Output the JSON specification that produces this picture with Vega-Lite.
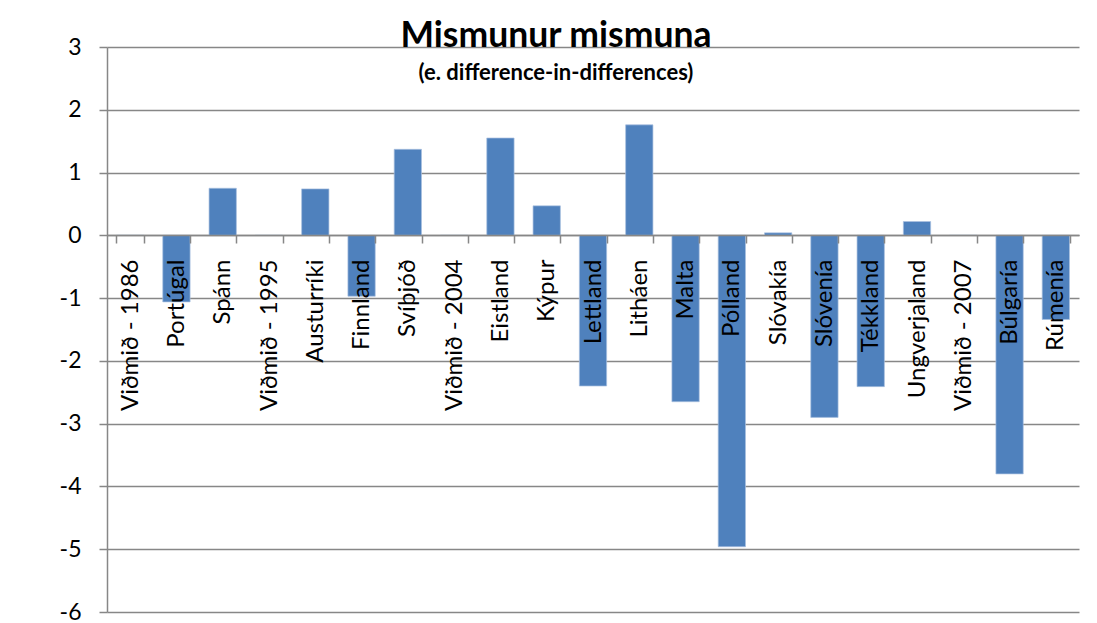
{
  "$schema": "https://vega.github.io/schema/vega-lite/v6.json",
  "width": 972,
  "height": 565,
  "autosize": {"type": "none"},
  "padding": {"left": 107, "top": 47, "right": 18, "bottom": 11},
  "background": "white",
  "title": {
    "text": "Mismunur mismuna",
    "subtitle": "(e. difference-in-differences)",
    "anchor": "middle",
    "frame": "group",
    "dx": -37,
    "offset": -48,
    "font": "Lato",
    "fontSize": 35.5,
    "fontWeight": "bold",
    "color": "black",
    "subtitleFont": "Lato",
    "subtitleFontSize": 22,
    "subtitleFontWeight": "bold",
    "subtitleColor": "black",
    "subtitlePadding": 9
  },
  "data": {
    "values": [
      {"land": "Viðmið - 1986", "gildi": 0},
      {"land": "Portúgal", "gildi": -1.06},
      {"land": "Spánn", "gildi": 0.75},
      {"land": "Viðmið - 1995", "gildi": 0},
      {"land": "Austurríki", "gildi": 0.74},
      {"land": "Finnland", "gildi": -0.97},
      {"land": "Svíþjóð", "gildi": 1.37},
      {"land": "Viðmið - 2004", "gildi": 0},
      {"land": "Eistland", "gildi": 1.55},
      {"land": "Kýpur", "gildi": 0.47},
      {"land": "Lettland", "gildi": -2.4},
      {"land": "Litháen", "gildi": 1.76},
      {"land": "Malta", "gildi": -2.65},
      {"land": "Pólland", "gildi": -4.96},
      {"land": "Slóvakía", "gildi": 0.04},
      {"land": "Slóvenía", "gildi": -2.9},
      {"land": "Tékkland", "gildi": -2.41},
      {"land": "Ungverjaland", "gildi": 0.22},
      {"land": "Viðmið - 2007", "gildi": 0},
      {"land": "Búlgaría", "gildi": -3.8},
      {"land": "Rúmenía", "gildi": -1.34}
    ]
  },
  "mark": {"type": "bar", "color": "#4F81BD", "stroke": "#a9c0df", "strokeWidth": 0.7},
  "encoding": {
    "x": {
      "field": "land",
      "type": "nominal",
      "sort": null,
      "scale": {"paddingInner": 0.41, "paddingOuter": 0.205},
      "axis": {
        "title": null,
        "orient": "bottom",
        "offset": -377,
        "zindex": 1,
        "domainColor": "#878787",
        "domainWidth": 1.5,
        "tickColor": "#878787",
        "tickWidth": 1.5,
        "tickSize": 8,
        "tickBand": "extent",
        "labelAngle": -90,
        "labelAlign": "right",
        "labelBaseline": "middle",
        "labelPadding": 16,
        "labelFont": "Lato",
        "labelFontSize": 24,
        "labelColor": "black",
        "labelOverlap": false,
        "labelLimit": 0
      }
    },
    "y": {
      "field": "gildi",
      "type": "quantitative",
      "scale": {"domain": [-6, 3], "nice": false, "zero": false},
      "axis": {
        "title": null,
        "values": [-6, -5, -4, -3, -2, -1, 0, 1, 2, 3],
        "labelExpr": "datum.value + ''",
        "grid": true,
        "gridColor": "#878787",
        "gridWidth": 1.5,
        "domainColor": "#878787",
        "domainWidth": 1.5,
        "tickColor": "#878787",
        "tickWidth": 1.5,
        "tickSize": 8,
        "labelPadding": 18,
        "labelFont": "Lato",
        "labelFontSize": 23,
        "labelColor": "black"
      }
    }
  },
  "config": {"view": {"stroke": null}}
}
